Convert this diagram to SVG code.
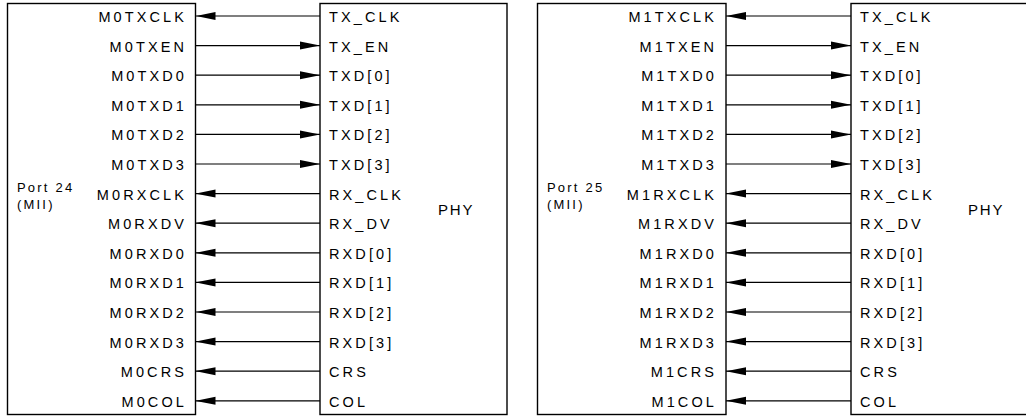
<svg xmlns="http://www.w3.org/2000/svg" width="1026" height="417" viewBox="0 0 1026 417">
<style>
.box{fill:#fff;stroke:#000;stroke-width:1.4}
.sig{font-family:"Liberation Sans",Arial,sans-serif;font-size:14.5px;letter-spacing:3.1px;fill:#000}
.mac{text-anchor:end}
.lbl{font-family:"Liberation Sans",Arial,sans-serif;font-size:13px;letter-spacing:2.2px;fill:#000}
.phy{font-family:"Liberation Sans",Arial,sans-serif;font-size:15px;letter-spacing:1.8px;fill:#000}
.c line{stroke:#000;stroke-width:1.2;marker-end:url(#ah)}
</style>
<defs>
<marker id="ah" viewBox="0 0 20 9" refX="20" refY="4.5" markerWidth="20" markerHeight="9" markerUnits="userSpaceOnUse" orient="auto">
<path d="M0,0.5 L20,4.5 L0,8.5 z" fill="#000"/>
</marker>
</defs>
<g id="port24">
<rect class="box" x="7.5" y="3.5" width="188" height="411"/>
<text class="lbl" x="17" y="192">Port 24</text>
<text class="lbl" x="17" y="209">(MII)</text>
<g class="sig mac">
<text x="187" y="22">M0TXCLK</text>
<text x="187" y="51.6">M0TXEN</text>
<text x="187" y="81.2">M0TXD0</text>
<text x="187" y="110.8">M0TXD1</text>
<text x="187" y="140.4">M0TXD2</text>
<text x="187" y="170">M0TXD3</text>
<text x="187" y="199.6">M0RXCLK</text>
<text x="187" y="229.2">M0RXDV</text>
<text x="187" y="258.8">M0RXD0</text>
<text x="187" y="288.4">M0RXD1</text>
<text x="187" y="318">M0RXD2</text>
<text x="187" y="347.6">M0RXD3</text>
<text x="187" y="377.2">M0CRS</text>
<text x="187" y="406.8">M0COL</text>
</g>
</g>
<g id="phy0">
<rect class="box" x="320" y="3.5" width="187" height="411"/>
<text class="phy" x="438" y="215">PHY</text>
<g class="sig">
<text x="329" y="22">TX_CLK</text>
<text x="329" y="51.6">TX_EN</text>
<text x="329" y="81.2">TXD[0]</text>
<text x="329" y="110.8">TXD[1]</text>
<text x="329" y="140.4">TXD[2]</text>
<text x="329" y="170">TXD[3]</text>
<text x="329" y="199.6">RX_CLK</text>
<text x="329" y="229.2">RX_DV</text>
<text x="329" y="258.8">RXD[0]</text>
<text x="329" y="288.4">RXD[1]</text>
<text x="329" y="318">RXD[2]</text>
<text x="329" y="347.6">RXD[3]</text>
<text x="329" y="377.2">CRS</text>
<text x="329" y="406.8">COL</text>
</g>
</g>
<g id="port25">
<rect class="box" x="537.5" y="3.5" width="188.5" height="411"/>
<text class="lbl" x="547" y="192">Port 25</text>
<text class="lbl" x="547" y="209">(MII)</text>
<g class="sig mac">
<text x="717" y="22">M1TXCLK</text>
<text x="717" y="51.6">M1TXEN</text>
<text x="717" y="81.2">M1TXD0</text>
<text x="717" y="110.8">M1TXD1</text>
<text x="717" y="140.4">M1TXD2</text>
<text x="717" y="170">M1TXD3</text>
<text x="717" y="199.6">M1RXCLK</text>
<text x="717" y="229.2">M1RXDV</text>
<text x="717" y="258.8">M1RXD0</text>
<text x="717" y="288.4">M1RXD1</text>
<text x="717" y="318">M1RXD2</text>
<text x="717" y="347.6">M1RXD3</text>
<text x="717" y="377.2">M1CRS</text>
<text x="717" y="406.8">M1COL</text>
</g>
</g>
<g id="phy1">
<rect class="box" x="851" y="3.5" width="190" height="411"/>
<text class="phy" x="968" y="215">PHY</text>
<g class="sig">
<text x="860" y="22">TX_CLK</text>
<text x="860" y="51.6">TX_EN</text>
<text x="860" y="81.2">TXD[0]</text>
<text x="860" y="110.8">TXD[1]</text>
<text x="860" y="140.4">TXD[2]</text>
<text x="860" y="170">TXD[3]</text>
<text x="860" y="199.6">RX_CLK</text>
<text x="860" y="229.2">RX_DV</text>
<text x="860" y="258.8">RXD[0]</text>
<text x="860" y="288.4">RXD[1]</text>
<text x="860" y="318">RXD[2]</text>
<text x="860" y="347.6">RXD[3]</text>
<text x="860" y="377.2">CRS</text>
<text x="860" y="406.8">COL</text>
</g>
</g>
<g id="connectors" class="c">
<line x1="320" y1="16" x2="195.5" y2="16"/>
<line x1="195.5" y1="45.6" x2="320" y2="45.6"/>
<line x1="195.5" y1="75.2" x2="320" y2="75.2"/>
<line x1="195.5" y1="104.8" x2="320" y2="104.8"/>
<line x1="195.5" y1="134.4" x2="320" y2="134.4"/>
<line x1="195.5" y1="164" x2="320" y2="164"/>
<line x1="320" y1="193.6" x2="195.5" y2="193.6"/>
<line x1="320" y1="223.2" x2="195.5" y2="223.2"/>
<line x1="320" y1="252.8" x2="195.5" y2="252.8"/>
<line x1="320" y1="282.4" x2="195.5" y2="282.4"/>
<line x1="320" y1="312" x2="195.5" y2="312"/>
<line x1="320" y1="341.6" x2="195.5" y2="341.6"/>
<line x1="320" y1="371.2" x2="195.5" y2="371.2"/>
<line x1="320" y1="400.8" x2="195.5" y2="400.8"/>
<line x1="851" y1="16" x2="726" y2="16"/>
<line x1="726" y1="45.6" x2="851" y2="45.6"/>
<line x1="726" y1="75.2" x2="851" y2="75.2"/>
<line x1="726" y1="104.8" x2="851" y2="104.8"/>
<line x1="726" y1="134.4" x2="851" y2="134.4"/>
<line x1="726" y1="164" x2="851" y2="164"/>
<line x1="851" y1="193.6" x2="726" y2="193.6"/>
<line x1="851" y1="223.2" x2="726" y2="223.2"/>
<line x1="851" y1="252.8" x2="726" y2="252.8"/>
<line x1="851" y1="282.4" x2="726" y2="282.4"/>
<line x1="851" y1="312" x2="726" y2="312"/>
<line x1="851" y1="341.6" x2="726" y2="341.6"/>
<line x1="851" y1="371.2" x2="726" y2="371.2"/>
<line x1="851" y1="400.8" x2="726" y2="400.8"/>
</g>
</svg>
